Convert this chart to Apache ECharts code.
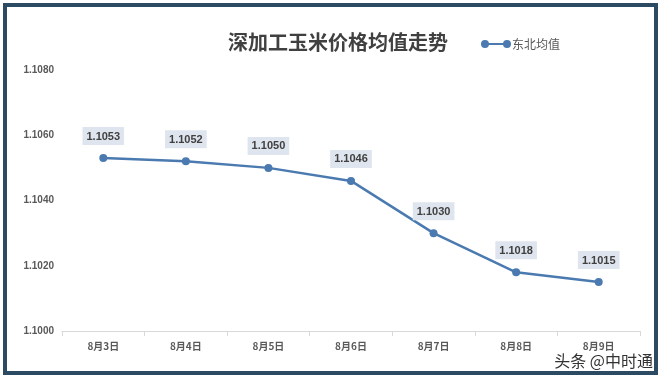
<!DOCTYPE html>
<html><head><meta charset="utf-8">
<script src="https://cdn.jsdelivr.net/npm/echarts@6/dist/echarts.min.js"></script>
<style>html,body{margin:0;padding:0;background:#fff}#c{width:661px;height:381px}</style>
</head><body><div id="c"></div>
<script>
const categories = ['8月3日','8月4日','8月5日','8月6日','8月7日','8月8日','8月9日'];
const values = [1.1053, 1.1052, 1.1050, 1.1046, 1.1030, 1.1018, 1.1015];
const seriesName = '东北均值';
const titleText = '深加工玉米价格均值走势';
const watermark = '头条 @中时通';

const chart = echarts.init(document.getElementById('c'));
chart.setOption({
  backgroundColor: '#fff',
  animation: false,
  title: { text: titleText, left: 223, top: 27, textStyle: { fontSize: 20, fontWeight: 'bold', color: '#404040', fontFamily: 'Noto Sans CJK SC' } },
  legend: { data: [{ name: seriesName, icon: 'path://M0,4A4,4 0 1,1 8,4A4,4 0 1,1 0,4Z M7,3h16v2h-16Z M22,4A4,4 0 1,1 30,4A4,4 0 1,1 22,4Z' }],
    left: 476, top: 33, itemWidth: 30, itemHeight: 8, itemGap: 2,
    textStyle: { fontSize: 12, color: '#595959', fontFamily: 'Noto Sans CJK SC', padding: [0,0,0,-4] } },
  grid: { left: 62, right: 21, top: 70, bottom: 50 },
  xAxis: { type: 'category', data: categories, boundaryGap: true,
    axisLine: { lineStyle: { color: '#d9d9d9', width: 1 } },
    axisTick: { show: true, length: 5, lineStyle: { color: '#d9d9d9' } },
    axisLabel: { fontSize: 10, fontWeight: 'bold', color: '#595959', margin: 10, fontFamily: 'Noto Sans CJK SC' } },
  yAxis: { type: 'value', min: 1.1000, max: 1.1080, interval: 0.0020,
    axisLine: { show: false }, axisTick: { show: false }, splitLine: { show: false },
    axisLabel: { fontSize: 10, fontWeight: 'bold', color: '#595959', margin: 8, formatter: v => v.toFixed(4), fontFamily: 'Liberation Sans' } },
  series: [{ name: seriesName, type: 'line', data: values,
    symbol: 'circle', symbolSize: 8,
    lineStyle: { color: '#4a7ab0', width: 2.5 }, itemStyle: { color: '#4a7ab0' },
    label: { show: true, position: 'top', distance: 9, formatter: p => p.value.toFixed(4),
      fontSize: 11, fontWeight: 'bold', color: '#404040', backgroundColor: '#dfe5ee',
      padding: [4,4,3,4], fontFamily: 'Liberation Sans' } }],
  graphic: [
    { type: 'rect', shape: { x: 5, y: 5, width: 651, height: 368 }, style: { fill: 'none', stroke: '#2d4a63', lineWidth: 4 }, z: 100 },
    { type: 'text', right: 7, bottom: 11, style: { text: watermark, fontSize: 16, fill: '#333', stroke: '#fff', lineWidth: 2, fontFamily: 'Noto Sans CJK SC' }, z: 101 }
  ]
});
</script></body></html>
